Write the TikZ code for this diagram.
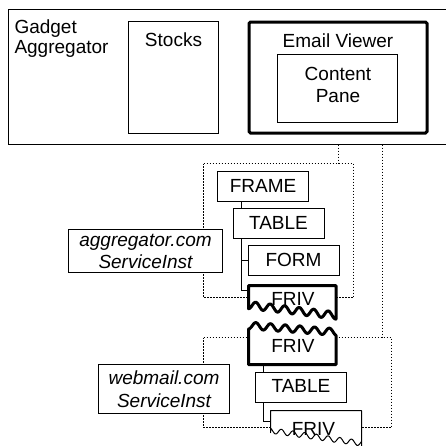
\documentclass[tikz,border=0pt]{standalone}
\usepackage{fontspec}
\setmainfont{Liberation Sans}
\begin{document}
\begin{tikzpicture}[x=1pt,y=-1pt,
  every node/.style={font=\fontsize{19}{22}\selectfont, inner sep=0pt, outer sep=0pt},
  boxline/.style={draw, line width=1pt, fill=white, line join=miter},
  treebox/.style={minimum width=91pt, minimum height=30pt, text depth=2pt},
  grp/.style={draw, line width=1pt, dash pattern=on 1.5pt off 1.5pt},
  dlink/.style={line width=1pt, dash pattern=on 1.5pt off 1.5pt},
  link/.style={line width=1pt},
  frivthick/.style={line width=3pt, line join=round, fill=white},
  frivthin/.style={line width=1pt, line join=round, fill=white}]
\useasboundingbox (-0.5,-0.5) -- (445.5,-0.5) -- (445.5,444.5) -- (-0.5,444.5) -- cycle;

% ---- top container ----
\coordinate (aggnw) at (8,9);
\coordinate (aggse) at (452,144);
\draw[line width=1pt] (aggse |- aggnw) -- (aggnw) -- (aggnw |- aggse) -- (aggse);
\node[anchor=west, align=left, font=\fontsize{19}{20}\selectfont] (aggtxt) at (14,38.5) {Gadget\\Aggregator};

\draw[boxline] (128,21) -- (218,21) -- (218,133) -- (128,133) -- cycle;
\node[anchor=base] (stockslbl) at (173,46) {Stocks};

\draw[line width=3pt, rounded corners=1.5pt] (248.5,21.5) -- (426.5,21.5) -- (426.5,132.5) -- (248.5,132.5) -- cycle;
\node[anchor=base] (emaillbl) at (337.5,46.5) {Email Viewer};

\draw[boxline] (277,54) -- (397,54) -- (397,122) -- (277,122) -- cycle;
\node[align=center, font=\fontsize{19}{22.3}\selectfont] (contentlbl) at (337.5,84.5) {Content\\Pane};

% ---- groups ----
\coordinate (g1nw) at (203,163);
\coordinate (g1se) at (353,297);
\coordinate (g2nw) at (203,337);
\coordinate (g2se) at (391,427);
\draw[grp] (g1nw) -- (g1nw -| g1se) -- (g1se) -- (g1se -| g1nw) -- cycle;
\draw[grp] (g2nw) -- (g2nw -| g2se) -- (g2se) -- (g2se -| g2nw) -- cycle;

\coordinate (c1) at (338,0);
\coordinate (c2) at (382,0);
\draw[dlink] (aggse -| c1) -- (g1nw -| c1);
\draw[dlink] (aggse -| c2) -- (g2nw -| c2);

% ---- tree nodes (names and texts) ----
\node[treebox] (frame) at (262.5,186) {};
\node[treebox] (table1) at (278,223) {};
\node[treebox] (form) at (293,260) {};
\node[treebox] (table2) at (300.5,386.5) {};

\coordinate (f1in) at (248,290);
\coordinate (f2s) at (292,364);
\coordinate (f3in) at (270,421);
\coordinate (j1) at (241,208);
\coordinate (j2) at (263,372);

\draw[link] (frame.south -| j1) -- (j1);
\draw[link] (table1.south -| j1) |- (f1in);
\draw[link] (j1 |- form.west) -- (form.west);
\draw[link] (j2 |- f2s) -- (j2);
\draw[link] (table2.south -| j2) |- (f3in);

% ---- tree boxes ----
\foreach \n in {frame,table1,form,table2}
  \draw[boxline] (\n.north west) -- (\n.north east) -- (\n.south east) -- (\n.south west) -- cycle;
\node[treebox] (framelbl) at (frame) {FRAME};
\node[treebox] (table1lbl) at (table1) {TABLE};
\node[treebox] (formlbl) at (form) {FORM};
\node[treebox] (table2lbl) at (table2) {TABLE};

% ---- service instances ----
\draw[boxline] (68,229) -- (222,229) -- (222,272) -- (68,272) -- cycle;
\node[align=center, font=\fontsize{19}{22}\selectfont\itshape] (s1) at (145,250.5) {aggregator.com\\ServiceInst};
\draw[boxline] (98,364) -- (229,364) -- (229,413) -- (98,413) -- cycle;
\node[align=center, font=\fontsize{19}{23.4}\selectfont\itshape] (s2) at (163.5,388.5) {webmail.com\\ServiceInst};

% ---- FRIV boxes ----
\draw[frivthick] (248,307.5) -- (248,285) -- (335.5,285) -- (335.5,318)
  -- plot[smooth, domain=335.5:248, samples=70] (\x,{304.5+0.12*(\x-248)+3.7*cos(24.83*(\x-248))}) -- cycle;
\node[anchor=base] (friv1) at (292.5,305) {FRIV};

\draw[frivthick] plot[smooth, domain=248:335.5, samples=70] (\x,{325+0.075*(\x-248)+3.5*cos(24.49*(\x-248))})
  -- (335.5,364) -- (248,364) -- cycle;
\node[anchor=base] (friv2) at (292.5,352) {FRIV};

\draw[frivthin] (270,432) -- (270,410) -- (361,410) -- (361,450)
  -- plot[smooth, domain=361:270, samples=80] (\x,{430+0.14*(\x-270)+2.8*cos(30.77*(\x-275))}) -- cycle;
\node[anchor=base] (friv3) at (313,434.5) {FRIV};
\end{tikzpicture}
\end{document}
